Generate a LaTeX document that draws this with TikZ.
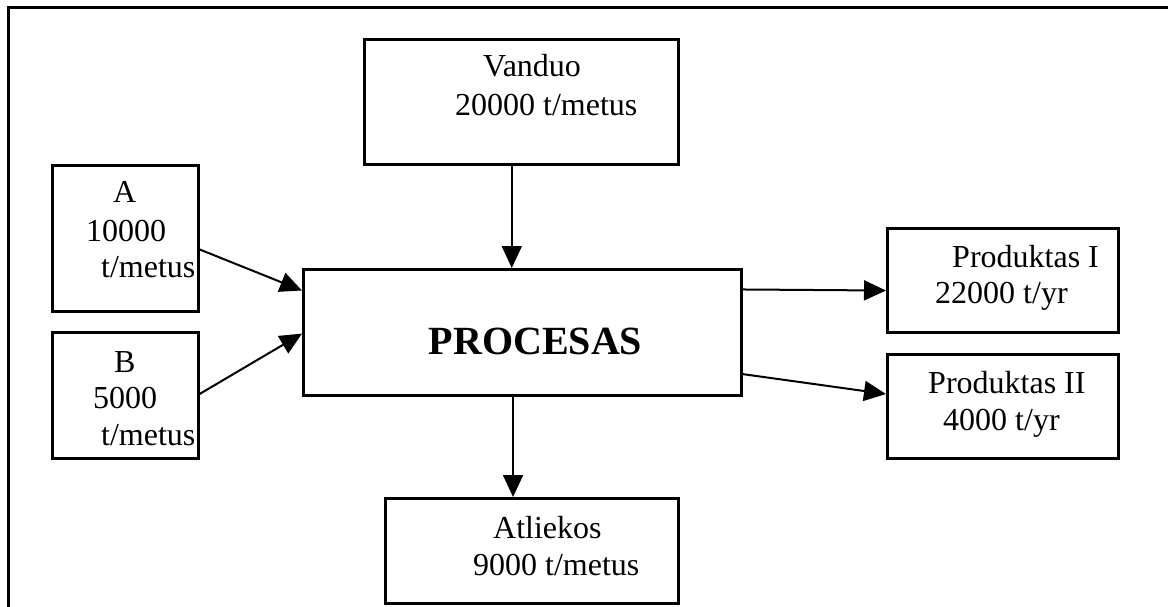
\documentclass[tikz,border=0pt]{standalone}
\usepackage{fontspec}
\setmainfont{Liberation Serif}
\usetikzlibrary{arrows.meta,calc}
\begin{document}
\begin{tikzpicture}[x=1pt,y=-1pt,
  box/.style={draw,line width=2.6pt,inner sep=0pt,anchor=north west},
  lbl/.style={inner sep=0pt,anchor=base west,font=\fontsize{32pt}{36pt}\selectfont},
  arr/.style={line width=2pt,-{Triangle[length=22pt,width=20pt]}}]
\useasboundingbox (0,0) rectangle (1168,607);
% frame
\coordinate (f1) at (8.5,607);
\coordinate (f2) at (8.5,7.5);
\coordinate (f3) at (1168,7.5);
\draw[line width=3pt] (f1) -- (f2) -- (f3);
% boxes
\node[box,minimum width=314pt,minimum height=125pt] (V) at (363,38) {};
\node[box,minimum width=146pt,minimum height=146pt] (A) at (51,164) {};
\node[box,minimum width=146pt,minimum height=126pt] (B) at (51,331) {};
\node[box,minimum width=438pt,minimum height=126pt] (P) at (302,268) {};
\node[box,minimum width=231pt,minimum height=104pt] (P1) at (886,227) {};
\node[box,minimum width=231pt,minimum height=104pt] (P2) at (886,353) {};
\node[box,minimum width=293pt,minimum height=105pt] (AT) at (384,497) {};
% texts
\node[lbl] (tV1) at (483,77) {Vanduo};
\node[lbl] (tV2) at (455,116) {20000 t/metus};
\node[lbl] (tA1) at (113,203) {A};
\node[lbl] (tA2) at (86,241) {10000};
\node[lbl] (tA3) at (101,277) {t/metus};
\node[lbl] (tB1) at (114,372) {B};
\node[lbl] (tB2) at (93,408) {5000};
\node[lbl] (tB3) at (101,445) {t/metus};
\node[inner sep=0pt,anchor=base,font=\fontsize{40pt}{44pt}\selectfont\bfseries] (tP) at (535.5,354) {PROCESAS};
\node[lbl] (tP11) at (952,267) {Produktas I};
\node[lbl] (tP12) at (935,303) {22000 t/yr};
\node[lbl] (tP21) at (928,393) {Produktas II};
\node[lbl] (tP22) at (943,430) {4000 t/yr};
\node[lbl] (tAT1) at (493,538) {Atliekos};
\node[lbl] (tAT2) at (473,575) {9000 t/metus};
% connectors
\coordinate (vb) at ($(V.south west)!0.47!(V.south east)$);
\draw[arr] (vb) -- (P.north -| vb);
\draw[arr] ($(A.north east)!0.575!(A.south east)$) -- ($(P.north west)!0.175!(P.south west)$);
\draw[arr] ($(B.north east)!0.49!(B.south east)$) -- ($(P.north west)!0.51!(P.south west)$);
\draw[arr] ($(P.north east)!0.167!(P.south east)$) -- ($(P1.north west)!0.596!(P1.south west)$);
\draw[arr] ($(P.north east)!0.825!(P.south east)$) -- ($(P2.north west)!0.385!(P2.south west)$);
\coordinate (pb) at ($(P.south west)!0.479!(P.south east)$);
\draw[arr] (pb) -- (AT.north -| pb);
\end{tikzpicture}
\end{document}
